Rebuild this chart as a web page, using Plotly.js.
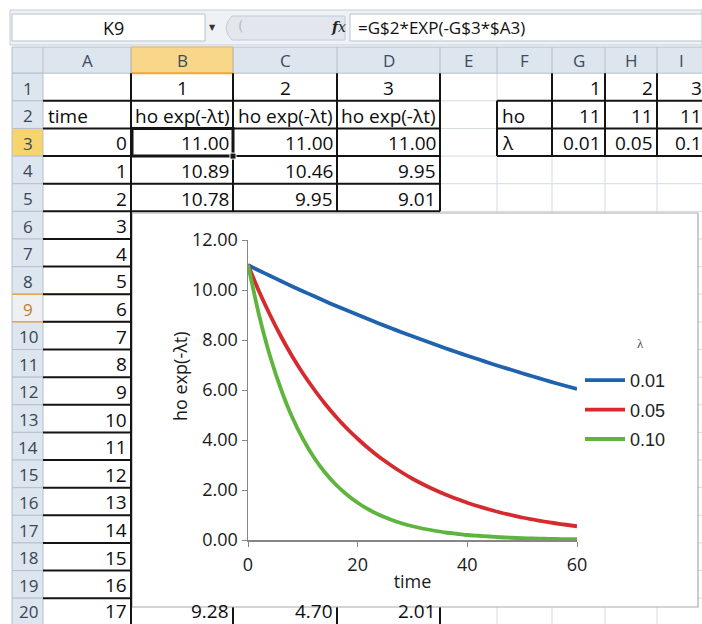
<!DOCTYPE html>
<html>
<head>
<meta charset="utf-8">
<script src="https://cdn.plot.ly/plotly-3.0.1.min.js"></script>
<style>html,body{margin:0;padding:0;background:#fff;}#chart{width:702px;height:624px;}</style>
</head>
<body>
<div id="chart"></div>
<script>
// ---------------- chart data ----------------
const time = [0,2,4,6,8,10,12,14,16,18,20,22,24,26,28,30,32,34,36,38,40,42,44,46,48,50,52,54,56,58,60];
const seriesA = [11.00,10.78,10.57,10.36,10.15,9.95,9.76,9.56,9.37,9.19,9.01,8.83,8.65,8.48,8.31,8.15,7.99,7.83,7.67,7.52,7.37,7.23,7.08,6.94,6.81,6.67,6.54,6.41,6.28,6.16,6.04];
const seriesB = [11.00,9.95,9.01,8.15,7.37,6.67,6.04,5.46,4.94,4.47,4.05,3.66,3.31,3.00,2.71,2.45,2.22,2.01,1.82,1.65,1.49,1.35,1.22,1.10,1.00,0.90,0.82,0.74,0.67,0.61,0.55];
const seriesC = [11.00,9.01,7.37,6.04,4.94,4.05,3.31,2.71,2.22,1.82,1.49,1.22,1.00,0.82,0.67,0.55,0.45,0.37,0.30,0.25,0.20,0.17,0.14,0.11,0.09,0.07,0.06,0.05,0.04,0.03,0.03];
const seriesNames = ['0.01','0.05','0.10'];
const legendTitle = 'λ';
const yTitle = 'ho exp(-λt)';
const xTitle = 'time';
const yTicks = [0,2,4,6,8,10,12];
const xTicks = [0,20,40,60];

// ---------------- spreadsheet texts ----------------
const nameBox = 'K9';
const formula = '=G$2*EXP(-G$3*$A3)';
const colLetters = ['A','B','C','D','E','F','G','H','I'];
const seriesIdx = ['1','2','3'];
const headerLabel = 'ho exp(-λt)';
const timeCol = ['0','1','2','3','4','5','6','7','8','9','10','11','12','13','14','15','16','17'];
const colB = ['11.00','10.89','10.78'];
const colC = ['11.00','10.46','9.95'];
const colD = ['11.00','9.95','9.01'];
const row20 = ['9.28','4.70','2.01'];
const paramIdx = ['1','2','3'];
const h0Row = ['11','11','11'];
const lambdaRow = ['0.01','0.05','0.1'];

// ---------------- geometry helpers ----------------
const W = 702, H = 624;
const X = p => p / W;
const Y = p => 1 - p / H;
const cols = [[43,131],[131,233],[233,337],[337,440],[440,497],[497,552],[552,605],[605,657],[657,706]];
const rowTop = k => 73.2 + (k - 1) * 27.63;
const rowBot = k => rowTop(k + 1);
const rowMid = k => (rowTop(k) + rowBot(k)) / 2;
const textMid = k => k === 20 ? 611 : rowMid(k) + 1;
const shapes = [];
const ann = [];
function rect(x0,y0,x1,y1,fill,line,lw){
  shapes.push({type:'rect',xref:'paper',yref:'paper',layer:'below',
    x0:X(x0),x1:X(x1),y0:Y(y1),y1:Y(y0),fillcolor:fill,
    line:{color:line||'rgba(0,0,0,0)',width:lw||0}});
}
function seg(x0,y0,x1,y1,color,w){
  shapes.push({type:'line',xref:'paper',yref:'paper',layer:'below',
    x0:X(x0),x1:X(x1),y0:Y(y0),y1:Y(y1),line:{color:color,width:w}});
}
const cellFont = {family:'Open Sans, sans-serif', size:19, color:'#0d0d0d'};
function txt(x,y,s,anchor,font,extra){
  ann.push(Object.assign({xref:'paper',yref:'paper',x:X(x),y:Y(y),text:s,showarrow:false,
    xanchor:anchor||'center',yanchor:'middle',font:font||cellFont,borderpad:0},extra||{}));
}
function cell(ci,row,s,align){
  const [l,r] = cols[ci];
  const x = align==='right' ? r-3 : align==='left' ? l+4 : (l+r)/2;
  txt(x,textMid(row),s,align==='right'?'right':align==='left'?'left':'center');
}

// formula bar
rect(10,10,702,45,'#eef1f5','#c5ccd6',1);
rect(12,14,205,41,'#ffffff','#b9c3cf',1);
txt(113,28,nameBox,'center',{family:'Open Sans, sans-serif',size:18,color:'#111'});
txt(212,28,'▼','center',{family:'DejaVu Sans',size:8,color:'#333'});
shapes.push({type:'path',xref:'paper',yref:'paper',layer:'below',
  path:`M ${X(232)},${Y(16)} L ${X(345)},${Y(16)} L ${X(345)},${Y(40)} L ${X(232)},${Y(40)} Q ${X(220)},${Y(28)} ${X(232)},${Y(16)} Z`,
  fillcolor:'#e3e7ed',line:{color:'#c3cad4',width:1}});
txt(240,26,'(','center',{family:'DejaVu Sans',size:14,color:'#b5bcc6'});
txt(338,27,'<b><i>f</i></b><i>x</i>','center',{family:'DejaVu Serif',size:14,color:'#222'});
rect(350,14,702,41,'#ffffff','#b9c3cf',1);
txt(357,28,formula,'left',{family:'Open Sans, sans-serif',size:17,color:'#111'});

// gridlines of the sheet
const sheetTop = 47, sheetBot = 624;
for (let k = 1; k <= 20; k++) seg(43,rowBot(k),706,rowBot(k),'#d3dae4',1);
cols.forEach(c => seg(c[1],73,c[1],sheetBot,'#d3dae4',1));

// column header row
rect(12,sheetTop,706,73.2,'#dde5ef','#b4c0ce',1);
rect(cols[1][0],sheetTop,cols[1][1],73.2,'#f8d78a','#e9b85a',1);
seg(cols[1][0],73.2,cols[1][1],73.2,'#f0a63a',2);
cols.forEach(c => seg(c[1],sheetTop,c[1],73.2,'#b4c0ce',1));
seg(43,sheetTop,43,73.2,'#b4c0ce',1);
colLetters.forEach((L,i)=>{
  txt((cols[i][0]+cols[i][1])/2,61,L,'center',{family:'Open Sans, sans-serif',size:17,color:'#3d4b5c'});
});

// row headers
for (let k = 1; k <= 20; k++) {
  let fill = '#dde5ef';
  if (k === 3) fill = '#f7d46e';
  if (k === 9) fill = '#eef0f2';
  rect(12,rowTop(k),43,rowBot(k),fill,'#b4c0ce',1);
  txt(28,textMid(k),String(k),'center',{family:'Open Sans, sans-serif',size:17,
     color: k===9 ? '#c77d1f' : '#3a4656'});
}
seg(12,rowTop(9),131,rowTop(9),'#e9a54c',1.5);
seg(12,rowBot(9),131,rowBot(9),'#e9a54c',1.5);

// black cell borders
const blk = '#141414';
for (let k = 1; k <= 5; k++) seg(43,rowBot(k),440,rowBot(k),blk,2);
for (let k = 6; k <= 19; k++) seg(43,rowBot(k),131,rowBot(k),blk,2);
[233,337,440].forEach(x => seg(x,rowTop(1),x,rowBot(5),blk,2));
[233,337,440].forEach(x => seg(x,rowTop(20)+2,x,sheetBot,blk,2));
for (let k = 1; k <= 3; k++) seg(497,rowBot(k),706,rowBot(k),blk,2);
seg(497,rowTop(2),497,rowBot(3),blk,2);
[552,605,657].forEach(x => seg(x,rowTop(1),x,rowBot(3),blk,2));
// active cell B3
rect(132,rowTop(3),233,rowBot(3),'rgba(0,0,0,0)',blk,3);
rect(230,rowBot(3)-3,236,rowBot(3)+3,'#141414','#ffffff',1);

// chart area (white box)
rect(132,213,698,607,'#ffffff','#a9a9a9',1.2);
seg(131,rowTop(1),131,sheetBot,blk,2);

// cell texts
seriesIdx.forEach((s,i)=>cell(1+i,1,s,'center'));
cell(0,2,'time','left');
[1,2,3].forEach(ci=>cell(ci,2,headerLabel,'center'));
timeCol.forEach((s,i)=>cell(0,3+i,s,'right'));
[colB,colC,colD].forEach((arr,ci)=>arr.forEach((s,r)=>cell(1+ci,3+r,s,'right')));
row20.forEach((s,i)=>cell(1+i,20,s,'right'));
paramIdx.forEach((s,i)=>cell(6+i,1,s,'right'));
cell(5,2,'ho','left');
cell(5,3,'λ','left');
h0Row.forEach((s,i)=>cell(6+i,2,s,'right'));
lambdaRow.forEach((s,i)=>cell(6+i,3,s,'right'));

// chart titles placed as annotations for exact position
const axFont = {family:'Open Sans, sans-serif',size:18,color:'#1a1a1a'};
txt(180,376,yTitle,'center',axFont,{textangle:-90});
txt(640,343,legendTitle,'center',{family:'Liberation Serif, serif',size:13,color:'#555'});

// ---------------- traces ----------------
const colors = ['#1f62ad','#d52a2e','#5db53d'];
const traces = [seriesA,seriesB,seriesC].map((ys,i)=>({
  type:'scatter',mode:'lines',x:time,y:ys,name:seriesNames[i],
  legendgroup:'g'+i,
  line:{color:colors[i],width:3.8,shape:'spline',smoothing:0.6}
}));

const layout = {
  width:W,height:H,margin:{l:0,r:0,t:0,b:0},
  paper_bgcolor:'#ffffff',plot_bgcolor:'rgba(0,0,0,0)',
  showlegend:true,
  xaxis:{domain:[X(248),X(577)],range:[0,60],tickvals:xTicks,ticktext:xTicks.map(String),
    showline:true,linecolor:'#868686',linewidth:1.5,ticks:'outside',ticklen:5,tickcolor:'#868686',
    showgrid:false,zeroline:false,tickfont:axFont,ticklabelstandoff:3,
    title:{text:xTitle,font:axFont,standoff:0}},
  yaxis:{domain:[Y(540),Y(240)],range:[0,12],tickvals:yTicks,tickformat:'.2f',
    showline:true,linecolor:'#868686',linewidth:1.5,ticks:'outside',ticklen:5,tickcolor:'#868686',
    showgrid:false,zeroline:false,tickfont:axFont},
  legend:{x:X(580),y:Y(362),xanchor:'left',yanchor:'top',bgcolor:'rgba(0,0,0,0)',
    font:{family:'Liberation Sans, Arial, sans-serif',size:18,color:'#222'},
    tracegroupgap:3,itemwidth:40},
  shapes:shapes,annotations:ann
};
Plotly.newPlot('chart',traces,layout,{displayModeBar:false,staticPlot:true});
</script>
</body>
</html>
